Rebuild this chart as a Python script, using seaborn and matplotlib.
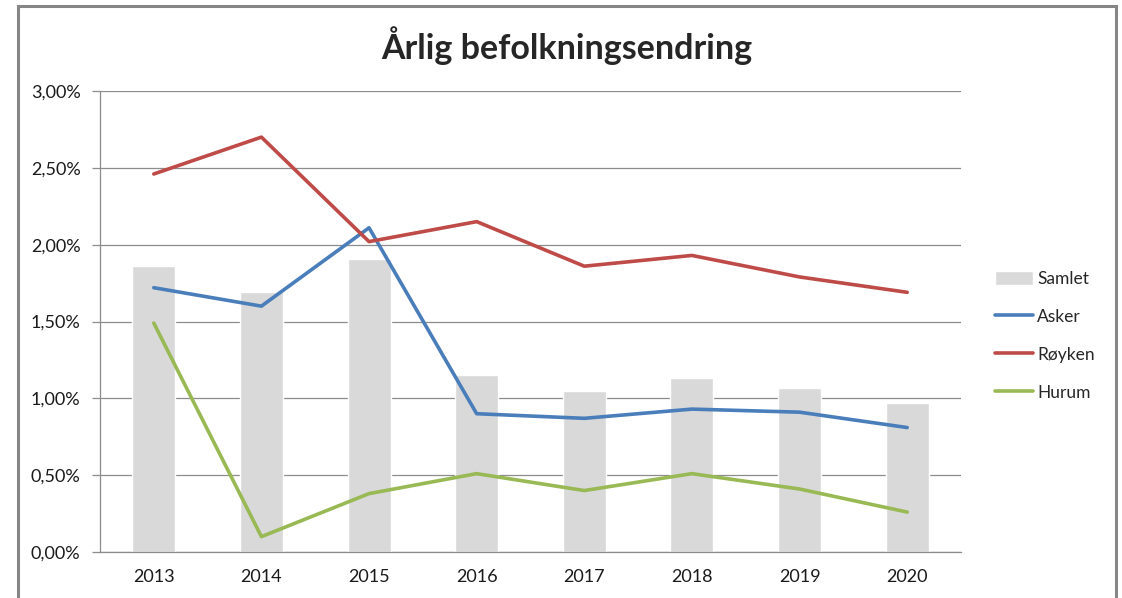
import numpy as np
import pandas as pd
import matplotlib.pyplot as plt
import seaborn as sns
from matplotlib.patches import Rectangle
from matplotlib.ticker import FuncFormatter, MultipleLocator

# Data (percent)
years = ['2013', '2014', '2015', '2016', '2017', '2018', '2019', '2020']
samlet = [1.86, 1.69, 1.91, 1.15, 1.05, 1.13, 1.07, 0.97]
asker = [1.72, 1.60, 2.11, 0.90, 0.87, 0.93, 0.91, 0.81]
royken = [2.46, 2.70, 2.02, 2.15, 1.86, 1.93, 1.79, 1.69]
hurum = [1.49, 0.10, 0.38, 0.51, 0.40, 0.51, 0.41, 0.26]

sns.set_style('white')
plt.rcParams['font.family'] = ['Lato', 'DejaVu Sans']

df_bar = pd.DataFrame({'year': years, 'value': samlet})
df_lines = pd.DataFrame({
    'year': years * 3,
    'value': asker + royken + hurum,
    'series': ['Asker'] * 8 + ['Røyken'] * 8 + ['Hurum'] * 8,
})

fig = plt.figure(figsize=(11.22, 5.98), dpi=100)
ax = fig.add_axes([0.0891, 0.0769, 0.7674, 0.7709])

sns.barplot(data=df_bar, x='year', y='value', color='#d9d9d9', width=0.4,
            saturation=1, ax=ax, label='Samlet', zorder=2)
sns.lineplot(data=df_lines, x='year', y='value', hue='series',
             palette={'Asker': '#4a7ebb', 'Røyken': '#be4b48', 'Hurum': '#98b954'},
             linewidth=2.6, ax=ax, zorder=3)

ax.set_xlim(-0.5, 7.5)
ax.set_ylim(0, 3.0)
ax.yaxis.set_major_locator(MultipleLocator(0.5))
ax.yaxis.set_major_formatter(FuncFormatter(lambda v, p: f'{v:.2f}%'.replace('.', ',')))
ax.set_xlabel('')
ax.set_ylabel('')

# Excel-style grid and axes
ax.grid(axis='y', color='#8c8c8c', linewidth=0.9, zorder=0)
ax.set_axisbelow(True)
for s in ['top', 'right']:
    ax.spines[s].set_visible(False)
for s in ['left', 'bottom']:
    ax.spines[s].set_color('#8c8c8c')
    ax.spines[s].set_linewidth(0.9)
ax.set_xticks(np.arange(8))
ax.set_xticks(np.arange(-0.5, 8, 1), minor=True)
ax.tick_params(axis='x', which='major', length=0, pad=12, labelsize=13, colors='#1a1a1a')
ax.tick_params(axis='x', which='minor', length=6, color='#8c8c8c', width=0.9, direction='out')
ax.tick_params(axis='y', length=6, color='#8c8c8c', width=0.9, pad=8, labelsize=13,
               colors='#1a1a1a', left=True)

# Legend: Samlet first, then the lines
handles, labels = ax.get_legend_handles_labels()
order = [labels.index(n) for n in ['Samlet', 'Asker', 'Røyken', 'Hurum']]
ax.legend([handles[i] for i in order], [labels[i] for i in order],
          loc='center left', bbox_to_anchor=(1.039, 0.469), frameon=False,
          fontsize=12.5, handlelength=2.2, handleheight=0.9, handletextpad=0.25,
          labelspacing=1.25, borderaxespad=0, borderpad=0)

fig.suptitle('Årlig befolkningsendring', x=0.505, y=0.923, fontsize=24.5,
             fontweight='bold', va='center')

# Chart frame
fig.patches.append(Rectangle((18 / 1122, -0.1), 1098 / 1122, 1.1 - 6 / 598,
                             transform=fig.transFigure, fill=False,
                             edgecolor='#868686', linewidth=2.2))

plt.savefig('out.png', dpi=100)
